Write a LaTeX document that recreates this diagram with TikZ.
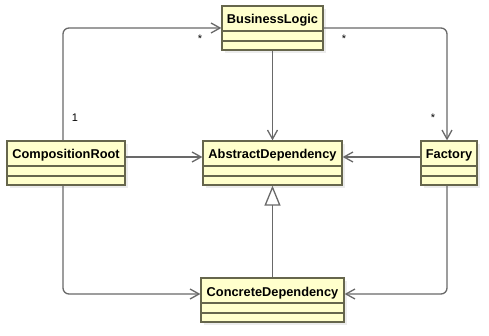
\documentclass[tikz,border=0pt]{standalone}
\usepackage{fontspec}
\setmainfont{Liberation Sans}
\usepackage{tikz}
\usetikzlibrary{arrows.meta, positioning, calc, shadows}
\definecolor{classfill}{RGB}{255, 255, 204}
\definecolor{classline}{RGB}{102, 102, 76}
\definecolor{linegray}{RGB}{105, 105, 105}

\begin{document}
\begin{tikzpicture}[x=1pt, y=-1pt,
  umlclass/.style={draw=classline, fill=classfill, line width=1.3pt, minimum width=#1,
    inner xsep=0pt, inner ysep=0pt, text height=18pt, text depth=26pt,
    font=\fontsize{12.8}{15}\selectfont\bfseries,
    drop shadow={shadow xshift=3pt, shadow yshift=-3pt, fill=black!12, opacity=0.6},
    path picture={
      \draw[classline, line width=1.3pt] ([yshift=-25pt]path picture bounding box.north west) -- ([yshift=-25pt]path picture bounding box.north east);
      \draw[classline, line width=1.3pt] ([yshift=-35pt]path picture bounding box.north west) -- ([yshift=-35pt]path picture bounding box.north east);
    }},
  assoc/.style={draw=linegray, line width=1.3pt, rounded corners=6pt, -{Straight Barb[length=9pt, width=10pt]}},
  realize/.style={draw=linegray, line width=1.3pt, -{Triangle[length=20pt, width=16pt, fill=white]}},
  mult/.style={font=\fontsize{11}{13}\selectfont, inner sep=1pt},
]
  \useasboundingbox (0,0) rectangle (489,336);

  % Classes
  \node[umlclass=101] (bl) at (272.5,28) {BusinessLogic};
  \node[umlclass=118] (cr) at (66,163) {CompositionRoot};
  \node[umlclass=139] (ad) at (272.5,163) {AbstractDependency};
  \node[umlclass=56] (fa) at (449,163) {Factory};
  \node[umlclass=143] (cd) at (272.5,300) {ConcreteDependency};

  % Associations
  \draw[assoc] ([xshift=-3pt]cr.north) |- (bl.west);
  \draw[assoc] (bl.east) -| ([xshift=-2pt]fa.north);
  \draw[assoc] (bl.south) -- (ad.north);
  \draw[assoc] ([yshift=6pt]cr.east) -- ([yshift=6pt]ad.west);
  \draw[assoc] ([yshift=6pt]fa.west) -- ([yshift=6pt]ad.east);
  \draw[assoc] ([xshift=-3pt]cr.south) |- ([yshift=6pt]cd.west);
  \draw[assoc] ([xshift=-2pt]fa.south) |- ([yshift=6pt]cd.east);

  % Realization
  \draw[realize] (cd.north) -- (ad.south);

  % Multiplicities
  \node[mult] (m1) at (75,118) {1};
  \node[mult] (m2) at (200,39) {*};
  \node[mult] (m3) at (344,39) {*};
  \node[mult] (m4) at (433,118) {*};

\end{tikzpicture}
\end{document}
